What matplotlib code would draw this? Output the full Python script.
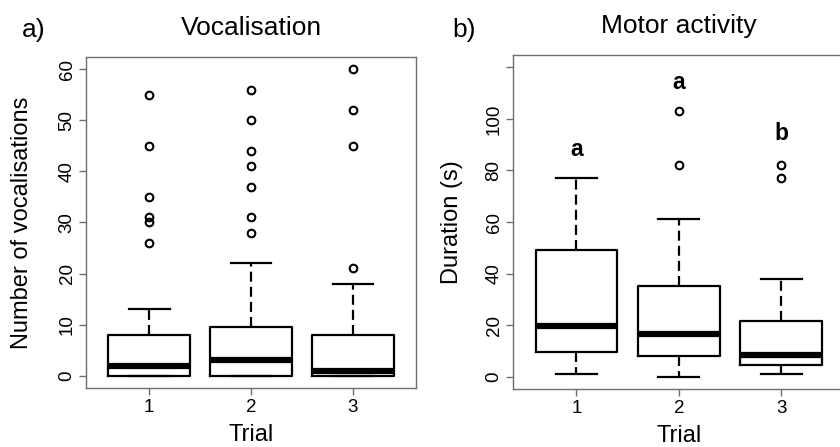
import numpy as np
import matplotlib.pyplot as plt

plt.rcParams['font.family'] = ['Liberation Sans', 'DejaVu Sans']

trials = [1, 2, 3]

# a) vocalisation counts per trial
voc_q1 = [0, 0, 0]
voc_med = [2, 3, 1]
voc_q3 = [8, 9.5, 8]
voc_lo = [0, 0, 0]
voc_hi = [13, 22, 18]
voc_out = [[26, 30, 31, 35, 45, 55],
           [28, 31, 37, 41, 44, 50, 56],
           [21, 45, 52, 60]]

# b) motor activity duration (s) per trial
mot_q1 = [9.5, 8, 4.5]
mot_med = [19.5, 16.5, 8.5]
mot_q3 = [49, 35, 21.5]
mot_lo = [1, 0, 1]
mot_hi = [77, 61, 38]
mot_out = [[], [82, 103], [77, 82]]
mot_letters = ['a', 'a', 'b']
mot_letter_y = [88, 114, 94.5]


def make_stats(q1, med, q3, lo, hi, out):
    stats = []
    for i in range(len(med)):
        stats.append(dict(q1=q1[i], med=med[i], q3=q3[i],
                          whislo=lo[i], whishi=hi[i], fliers=out[i]))
    return stats


def draw_panel(ax, stats, ylim, yticks, yticklabels):
    ax.bxp(stats, positions=trials, widths=0.8, showfliers=True,
           boxprops=dict(color='black', linewidth=1.6),
           medianprops=dict(color='black', linewidth=4.5, solid_capstyle='butt'),
           whiskerprops=dict(color='black', linewidth=1.6, linestyle=(0, (4.5, 2.3))),
           capprops=dict(color='black', linewidth=1.6),
           capwidths=0.4,
           flierprops=dict(marker='o', markersize=5.5, markerfacecolor='none',
                           markeredgecolor='black', markeredgewidth=1.5))
    ax.set_xlim(0.38, 3.62)
    pad = (ylim[1] - ylim[0]) * 0.04
    ax.set_ylim(ylim[0] - pad, ylim[1] + pad)
    ax.set_xticks(trials)
    ax.set_xticklabels([str(t) for t in trials])
    ax.set_yticks(yticks)
    ax.set_yticklabels(yticklabels, rotation=90, va='center')
    for sp in ax.spines.values():
        sp.set_color('#6e6e6e')
        sp.set_linewidth(1.0)
    ax.tick_params(length=5, width=1.0, color='#6e6e6e', labelsize=13.5)
    ax.tick_params(axis='x', pad=3)
    ax.tick_params(axis='y', pad=2.5)


fig = plt.figure(figsize=(8.4, 4.47), dpi=100)

ax1 = fig.add_axes([0.1024, 0.132, 0.3929, 0.7405])
draw_panel(ax1, make_stats(voc_q1, voc_med, voc_q3, voc_lo, voc_hi, voc_out),
           (0, 60), np.arange(0, 61, 10), [str(v) for v in range(0, 61, 10)])
ax1.set_title('Vocalisation', fontsize=19, pad=16)
ax1.set_xlabel('Trial', fontsize=17)
ax1.set_ylabel('Number of vocalisations', fontsize=17)
ax1.xaxis.set_label_coords(0.5, -0.11)
ax1.yaxis.set_label_coords(-0.16, 0.5)

ax2 = fig.add_axes([0.6107, 0.1298, 0.395, 0.747])
draw_panel(ax2, make_stats(mot_q1, mot_med, mot_q3, mot_lo, mot_hi, mot_out),
           (0, 120), np.arange(0, 121, 20),
           [str(v) for v in range(0, 101, 20)] + [''])
for t, lab, y in zip(trials, mot_letters, mot_letter_y):
    ax2.text(t, y, lab, ha='center', va='center', fontsize=16.5, fontweight='bold')
ax2.set_title('Motor activity', fontsize=19, pad=16)
ax2.set_xlabel('Trial', fontsize=17)
ax2.set_ylabel('Duration (s)', fontsize=17)
ax2.xaxis.set_label_coords(0.5, -0.108)
ax2.yaxis.set_label_coords(-0.15, 0.5)

fig.text(0.026, 0.917, 'a)', fontsize=19)
fig.text(0.539, 0.917, 'b)', fontsize=19)

fig.savefig('out.png', dpi=100)
